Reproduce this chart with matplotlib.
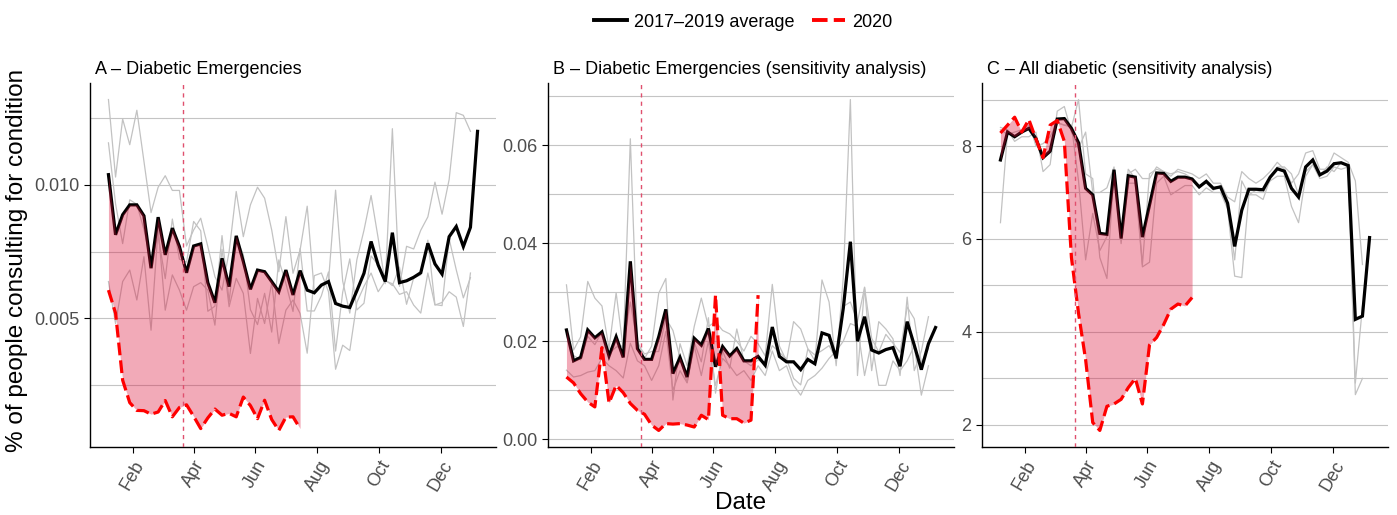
import numpy as np
import pandas as pd
import matplotlib
matplotlib.use("Agg")
import matplotlib.pyplot as plt
import matplotlib.dates as mdates
from matplotlib.lines import Line2D

plt.rcParams['font.family'] = ['Liberation Sans', 'DejaVu Sans']

weeks = pd.date_range("2020-01-08", periods=53, freq="7D")
lockdown = pd.Timestamp("2020-03-22")

# A - Diabetic emergencies
a_avg = [0.01038, 0.00813, 0.00888, 0.00925, 0.00925, 0.00884, 0.00688, 0.00879, 0.00738, 0.00838,
         0.00769, 0.00671, 0.00771, 0.00779, 0.00634, 0.00559, 0.00725, 0.00619, 0.00809, 0.00713,
         0.00609, 0.00681, 0.00675, 0.00638, 0.00600, 0.00681, 0.00588, 0.00679, 0.00606, 0.00596,
         0.00625, 0.00638, 0.00556, 0.00546, 0.00541, 0.00604, 0.00669, 0.00788, 0.00700, 0.00638,
         0.00821, 0.00634, 0.00641, 0.00654, 0.00671, 0.00781, 0.00704, 0.00666, 0.00806, 0.00844,
         0.00769, 0.00841, 0.01200]
a_2020 = [0.00606, 0.0052, 0.00269, 0.00185, 0.00156, 0.00155, 0.00142, 0.0015, 0.00193, 0.00132,
          0.00167, 0.00177, 0.00134, 0.00088, 0.00128, 0.00161, 0.00138, 0.00145, 0.00132, 0.00206,
          0.00174, 0.00125, 0.00194, 0.00122, 0.00081, 0.00131, 0.00132, 0.00088]
a_2017 = [0.01319, 0.01029, 0.01246, 0.0115, 0.01279, 0.01088, 0.00896, 0.00991, 0.01034, 0.00979,
          0.00979, 0.00771, 0.00831, 0.00875, 0.00769, 0.00656, 0.00606, 0.0075, 0.00975, 0.00806,
          0.00925, 0.00991, 0.0095, 0.00831, 0.00675, 0.00881, 0.00669, 0.00756, 0.0092, 0.0060,
          0.0062, 0.0064, 0.0098, 0.0064, 0.0052, 0.0072, 0.0083, 0.0096, 0.0080, 0.0063,
          0.0121, 0.0062, 0.0077, 0.0076, 0.0083, 0.0088, 0.0101, 0.0089, 0.0102, 0.0127,
          0.0126, 0.0120]
a_2018 = [0.01157, 0.00929, 0.0078, 0.00944, 0.00927, 0.00833, 0.00712, 0.00808, 0.00649, 0.00872,
          0.00722, 0.00711, 0.00863, 0.00828, 0.00527, 0.00546, 0.0081, 0.00563, 0.00802, 0.00739,
          0.00533, 0.00477, 0.00594, 0.00449, 0.00719, 0.00631, 0.00526, 0.00762, 0.00528, 0.00528,
          0.00585, 0.00674, 0.00378, 0.00598, 0.00723, 0.00532, 0.00557, 0.00734, 0.0070, 0.00644,
          0.00623, 0.00692, 0.00553, 0.00652, 0.00663, 0.00793, 0.00552, 0.00548, 0.00798, 0.00682,
          0.00577, 0.00653]
a_2019 = [0.00638, 0.00481, 0.00638, 0.00681, 0.00569, 0.00731, 0.00456, 0.00838, 0.00531, 0.00663,
          0.00606, 0.00531, 0.00619, 0.00634, 0.00606, 0.00475, 0.00759, 0.00544, 0.0065, 0.00594,
          0.00369, 0.00575, 0.00481, 0.00634, 0.00406, 0.00531, 0.00569, 0.00519, 0.0037, 0.0066,
          0.0067, 0.0060, 0.0031, 0.0040, 0.0038, 0.0056, 0.0062, 0.0067, 0.0060, 0.0064,
          0.0063, 0.0059, 0.0060, 0.0055, 0.0052, 0.0067, 0.0055, 0.0056, 0.0060, 0.0058,
          0.0047, 0.0067]

# B - Diabetic emergencies (sensitivity analysis)
b_avg = [0.0223, 0.0160, 0.0167, 0.0223, 0.0207, 0.0219, 0.0170, 0.0209, 0.0167, 0.0363,
         0.0185, 0.0163, 0.0163, 0.0209, 0.0265, 0.0134, 0.0167, 0.0127, 0.0206, 0.0192,
         0.0226, 0.0148, 0.0189, 0.0170, 0.0185, 0.0160, 0.0160, 0.0169, 0.0151, 0.0229,
         0.0169, 0.0158, 0.0158, 0.0142, 0.0163, 0.0154, 0.0217, 0.0212, 0.0165, 0.0267,
         0.0403, 0.0200, 0.0250, 0.0182, 0.0176, 0.0183, 0.0187, 0.0149, 0.0240, 0.0192,
         0.0142, 0.0195, 0.0228]
b_2020 = [0.0127, 0.0115, 0.0093, 0.0076, 0.0066, 0.0187, 0.0074, 0.0110, 0.0095, 0.0073,
          0.0059, 0.0051, 0.0029, 0.0018, 0.0032, 0.0031, 0.0032, 0.0029, 0.0025, 0.0049,
          0.0040, 0.0294, 0.0049, 0.0042, 0.0042, 0.0033, 0.0039, 0.0294]
b_2017 = [0.0315, 0.0182, 0.0209, 0.0322, 0.0288, 0.0272, 0.0185, 0.0299, 0.0185, 0.0613,
          0.0200, 0.0165, 0.0190, 0.0298, 0.0328, 0.0080, 0.0195, 0.0150, 0.0230, 0.0288,
          0.0230, 0.0240, 0.0222, 0.0215, 0.0200, 0.0180, 0.0210, 0.0195, 0.0170, 0.0316,
          0.0190, 0.0160, 0.0240, 0.0225, 0.0185, 0.0160, 0.0325, 0.0280, 0.0150, 0.0330,
          0.0693, 0.0130, 0.0310, 0.0140, 0.0240, 0.0225, 0.0205, 0.0130, 0.0290, 0.0140,
          0.0180, 0.0250]
b_2018 = [0.0213, 0.0171, 0.0162, 0.0210, 0.0193, 0.0220, 0.0175, 0.0188, 0.0191, 0.0280,
          0.0195, 0.0174, 0.0179, 0.0179, 0.0247, 0.0222, 0.0166, 0.0116, 0.0198, 0.0158,
          0.0248, 0.0094, 0.0180, 0.0145, 0.0225, 0.0160, 0.0150, 0.0162, 0.0153, 0.0191,
          0.0177, 0.0164, 0.0124, 0.0111, 0.0184, 0.0172, 0.0181, 0.0191, 0.0165, 0.0271,
          0.0280, 0.0240, 0.0310, 0.0206, 0.0178, 0.0214, 0.0196, 0.0177, 0.0270, 0.0246,
          0.0156, 0.0185]
b_2019 = [0.0141, 0.0127, 0.0130, 0.0137, 0.0140, 0.0165, 0.0150, 0.0140, 0.0125, 0.0196,
          0.0160, 0.0150, 0.0120, 0.0150, 0.0220, 0.0100, 0.0140, 0.0115, 0.0190, 0.0130,
          0.0200, 0.0110, 0.0165, 0.0150, 0.0130, 0.0140, 0.0120, 0.0150, 0.0130, 0.0180,
          0.0140, 0.0150, 0.0110, 0.0090, 0.0120, 0.0130, 0.0145, 0.0165, 0.0180, 0.0200,
          0.0236, 0.0230, 0.0130, 0.0200, 0.0110, 0.0110, 0.0160, 0.0140, 0.0160, 0.0190,
          0.0090, 0.0150]

# C - All diabetic (sensitivity analysis)
c_avg = [7.70, 8.30, 8.20, 8.30, 8.38, 8.16, 7.75, 7.89, 8.58, 8.59,
         8.38, 8.07, 7.09, 6.95, 6.12, 6.10, 7.49, 6.01, 7.36, 7.33,
         6.04, 6.73, 7.42, 7.41, 7.24, 7.33, 7.33, 7.29, 7.12, 7.24,
         7.09, 7.12, 6.77, 5.84, 6.62, 7.07, 7.07, 7.06, 7.33, 7.51,
         7.46, 7.09, 6.90, 7.55, 7.70, 7.38, 7.46, 7.62, 7.64, 7.58,
         4.27, 4.34, 6.03]
c_2020 = [8.28, 8.45, 8.62, 8.30, 8.57, 8.15, 7.75, 8.45, 8.55, 8.10,
          5.60, 4.40, 3.40, 2.05, 1.88, 2.40, 2.45, 2.55, 2.80, 3.00,
          2.45, 3.72, 3.88, 4.16, 4.49, 4.60, 4.56, 4.74]
c_2017 = [8.40, 8.35, 8.10, 8.20, 8.20, 8.30, 7.45, 7.60, 8.75, 8.85,
          8.30, 7.95, 8.30, 7.00, 7.00, 7.10, 7.55, 6.15, 7.40, 7.50,
          7.30, 7.30, 7.55, 7.45, 7.35, 7.50, 7.45, 7.40, 7.30, 7.40,
          7.20, 7.20, 6.90, 6.80, 7.45, 7.30, 7.20, 7.30, 7.45, 7.65,
          7.50, 7.20, 7.40, 7.85, 7.90, 7.50, 7.50, 7.85, 7.75, 7.65,
          7.25, 5.45]
c_2018 = [8.35, 8.25, 8.30, 8.35, 8.50, 8.00, 8.05, 8.20, 8.50, 8.45,
          8.40, 9.00, 7.40, 7.30, 5.60, 5.15, 7.45, 5.90, 7.50, 7.30,
          5.45, 7.40, 7.50, 7.45, 7.40, 7.45, 7.40, 7.30, 7.15, 7.20,
          7.05, 7.15, 6.75, 5.55, 7.25, 6.95, 6.95, 6.85, 7.30, 7.55,
          7.55, 7.40, 6.95, 7.45, 7.60, 7.35, 7.55, 7.45, 7.65, 7.55,
          2.65, 3.00]
c_2019 = [6.35, 8.30, 8.20, 8.35, 8.45, 8.20, 7.75, 7.85, 8.50, 8.45,
          8.45, 7.25, 5.55, 6.55, 5.75, 6.05, 7.45, 6.00, 7.20, 7.20,
          5.40, 5.50, 7.20, 7.35, 6.95, 7.05, 7.15, 7.15, 6.95, 7.10,
          7.00, 7.00, 6.65, 5.20, 5.17, 6.95, 7.05, 7.00, 7.25, 7.35,
          7.35, 6.70, 6.35, 7.35, 7.60, 7.30, 7.35, 7.55, 7.50, 7.55,
          2.90, 4.55]

panels = [
    ("A \u2013 Diabetic Emergencies", a_avg, a_2020, [a_2017, a_2018, a_2019],
     [0.005, 0.010], [0.0025, 0.0075, 0.0125], "%.3f"),
    ("B \u2013 Diabetic Emergencies (sensitivity analysis)", b_avg, b_2020, [b_2017, b_2018, b_2019],
     [0.00, 0.02, 0.04, 0.06], [0.01, 0.03, 0.05, 0.07], "%.2f"),
    ("C \u2013 All diabetic (sensitivity analysis)", c_avg, c_2020, [c_2017, c_2018, c_2019],
     [2, 4, 6, 8], [3, 5, 7, 9], "%d"),
]
lefts = [90, 548, 982]

fig = plt.figure(figsize=(13.97, 5.15), dpi=100)
for (title, avg, cur, years, major, minor, fmt), lp in zip(panels, lefts):
    ax = fig.add_axes([lp / 1397, 1 - 447 / 515, 406 / 1397, (447 - 83) / 515])
    for yr in years:
        ax.plot(weeks[:len(yr)], yr, color="#c2c2c2", lw=0.9, zorder=2)
    ax.plot(weeks, avg, color="black", lw=2.3, zorder=3, solid_joinstyle="miter")
    n = len(cur)
    ax.fill_between(weeks[:n], avg[:n], cur, color="#dc143c", alpha=0.36, lw=0, zorder=4)
    ax.plot(weeks[:n], cur, color="red", lw=2.3, dashes=(4, 1.6), zorder=5)
    ax.axvline(lockdown, color="#e0506e", lw=1.0, dashes=(3, 3), zorder=6)

    ax.set_yticks(major)
    ax.set_yticks(minor, minor=True)
    ax.yaxis.set_major_formatter(matplotlib.ticker.FormatStrFormatter(fmt))
    ax.grid(axis="y", which="both", color="#c4c4c4", lw=0.8, zorder=0)
    ax.set_axisbelow(True)
    ax.margins(x=0.05, y=0.05)
    lo, hi = ax.get_ylim()
    ax.set_ylim(lo, hi)

    ax.xaxis.set_major_locator(mdates.MonthLocator(bymonth=[2, 4, 6, 8, 10, 12]))
    ax.xaxis.set_major_formatter(mdates.DateFormatter("%b"))
    ax.tick_params(axis="both", which="major", labelsize=13, labelcolor="#4d4d4d",
                   length=4, width=0.8, color="black")
    ax.tick_params(axis="y", which="minor", length=0)
    plt.setp(ax.get_xticklabels(), rotation=60, ha="center")
    for s in ["top", "right"]:
        ax.spines[s].set_visible(False)
    for s in ["left", "bottom"]:
        ax.spines[s].set_linewidth(1.0)
    ax.text(0.012, 1.015, title, transform=ax.transAxes, fontsize=13, ha="left", va="bottom")

fig.text(0.53, 0.001, "Date", fontsize=17.5, ha="center", va="bottom")
fig.text(0.004, 0.495, "% of people consulting for condition", fontsize=17.5,
         rotation=90, ha="left", va="center")

handles = [Line2D([], [], color="black", lw=2.8),
           Line2D([], [], color="red", lw=2.8, dashes=(4, 1.6))]
fig.legend(handles, ["2017\u20132019 average", "2020"], loc="upper center",
           bbox_to_anchor=(0.532, 1.005), ncol=2, frameon=False, fontsize=13,
           handlelength=1.8, columnspacing=1.0, handletextpad=0.4)

fig.savefig("out.png", dpi=100)
